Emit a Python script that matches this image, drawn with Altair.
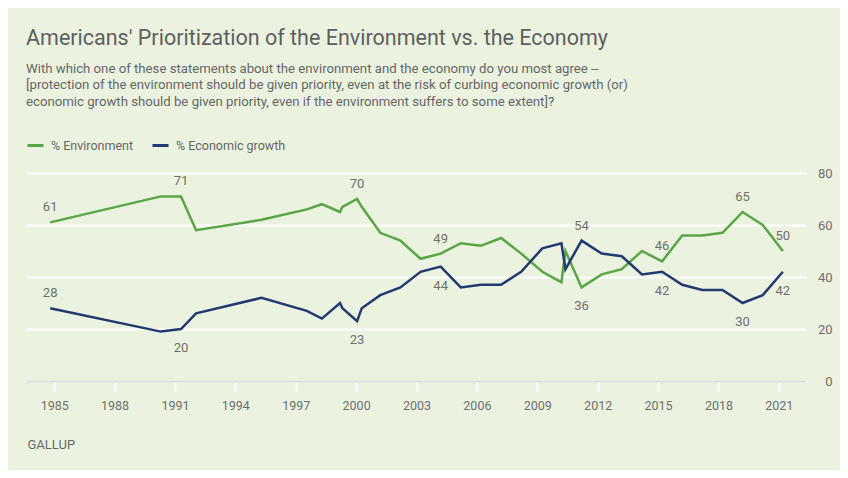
import altair as alt
import pandas as pd

# ---- data ----
years = [1984.8, 1990.3, 1991.3, 1992.05, 1995.3, 1997.55, 1998.3, 1999.2, 1999.32,
         2000.05, 2000.28, 2001.2, 2002.2, 2003.2, 2004.2, 2005.2, 2006.2, 2007.2,
         2008.2, 2009.25, 2010.2, 2010.4, 2011.2, 2012.2, 2013.2, 2014.2, 2015.2,
         2016.2, 2017.2, 2018.2, 2019.2, 2020.2, 2021.2]
environment = [61, 71, 71, 58, 62, 66, 68, 65, 67,
               70, 67, 57, 54, 47, 49, 53, 52, 55,
               49, 42, 38, 50, 36, 41, 43, 50, 46,
               56, 56, 57, 65, 60, 50]
economic = [28, 19, 20, 26, 32, 27, 24, 30, 28,
            23, 28, 33, 36, 42, 44, 36, 37, 37,
            42, 51, 53, 43, 54, 49, 48, 41, 42,
            37, 35, 35, 30, 33, 42]

series_names = ["% Environment", "% Economic growth"]
series_colors = ["#5aa545", "#23396f"]

x_ticks = [1985, 1988, 1991, 1994, 1997, 2000, 2003, 2006, 2009, 2012, 2015, 2018, 2021]
y_ticks = [0, 20, 40, 60, 80]

label_above_years = [1984.8, 1991.3, 2000.05, 2004.2, 2015.2, 2019.2, 2021.2, 1984.8, 2011.2]
label_above_values = [61, 71, 70, 49, 46, 65, 50, 28, 54]
label_below_years = [1991.3, 2000.05, 2004.2, 2011.2, 2015.2, 2019.2, 2021.2]
label_below_values = [20, 23, 44, 36, 42, 30, 42]

title_text = "Americans' Prioritization of the Environment vs. the Economy"
subtitle_lines = [
    "With which one of these statements about the environment and the economy do you most agree --",
    "[protection of the environment should be given priority, even at the risk of curbing economic growth (or)",
    "economic growth should be given priority, even if the environment suffers to some extent]?",
]

# ---- tables ----
rows = []
for yr, env, eco in zip(years, environment, economic):
    rows.append({"year": yr, "series": series_names[0], "value": env})
    rows.append({"year": yr, "series": series_names[1], "value": eco})
df = pd.DataFrame(rows)

above = pd.DataFrame({"year": label_above_years, "value": label_above_values})
below = pd.DataFrame({"year": label_below_years, "value": label_below_values})

FONT = "Roboto"
TXT = "#6f6f6f"

x_scale = alt.Scale(domain=[1983.6, 2022.35], nice=False, zero=False)
y_scale = alt.Scale(domain=[0, 80], nice=False)

x_enc = alt.X(
    "year:Q",
    scale=x_scale,
    axis=alt.Axis(
        values=x_ticks, format="d", grid=False,
        domainColor="#dcdcdc", domainWidth=2,
        tickColor="#ffffff", tickWidth=2, tickSize=10,
        labelFontSize=12.5, labelColor=TXT, labelFont=FONT, labelPadding=8,
        title="GALLUP", titleAnchor="start", titleAlign="left", titleX=1, titleY=63,
        titleBaseline="middle", titleFontSize=13, titleFontWeight="normal",
        titleColor="#6a6a6a", titleFont=FONT,
    ),
)
y_enc = alt.Y(
    "value:Q",
    scale=y_scale,
    axis=alt.Axis(
        orient="right", values=y_ticks, grid=True, gridColor="#ffffff", gridWidth=2,
        domain=False, ticks=False, labelAlign="right", labelPadding=26,
        labelFontSize=13, labelColor=TXT, labelFont=FONT, title=None,
    ),
)

lines = alt.Chart(df).mark_line(strokeWidth=2.5).encode(
    x=x_enc,
    y=y_enc,
    color=alt.Color(
        "series:N",
        scale=alt.Scale(domain=series_names, range=series_colors),
        sort=series_names,
        legend=alt.Legend(
            orient="none", legendX=0, legendY=-37, direction="horizontal",
            title=None, symbolType="stroke", symbolSize=256, symbolStrokeWidth=3,
            labelFontSize=12.5, labelColor="#666666", labelFont=FONT,
            labelOffset=6, columnPadding=12, padding=0,
        ),
    ),
)

text_style = dict(fontSize=13, color=TXT, font=FONT, align="center", baseline="middle")
lab_above = alt.Chart(above).mark_text(dy=-15, **text_style).encode(
    x=alt.X("year:Q", scale=x_scale), y=alt.Y("value:Q", scale=y_scale),
    text=alt.Text("value:Q", format="d"),
)
lab_below = alt.Chart(below).mark_text(dy=19, **text_style).encode(
    x=alt.X("year:Q", scale=x_scale), y=alt.Y("value:Q", scale=y_scale),
    text=alt.Text("value:Q", format="d"),
)

chart = (
    alt.layer(lines, lab_above, lab_below)
    .properties(
        width=780,
        height=208,
        autosize=alt.AutoSizeParams(type="none"),
        padding={"left": 18, "top": 165, "right": 34, "bottom": 89},
        background="#ebf3e0",
        title=alt.TitleParams(
            text=title_text, subtitle=subtitle_lines, anchor="start", frame="group",
            font=FONT, fontSize=21.5, fontWeight="normal", color="#5f5f5f",
            subtitleFont=FONT, subtitleFontSize=13.2, subtitleColor="#666666",
            subtitleLineHeight=16.5, subtitlePadding=13, offset=28,
        ),
    )
    .configure_view(stroke=None)
)

chart.save("out.html", embed_options={"renderer": "svg", "actions": False})
